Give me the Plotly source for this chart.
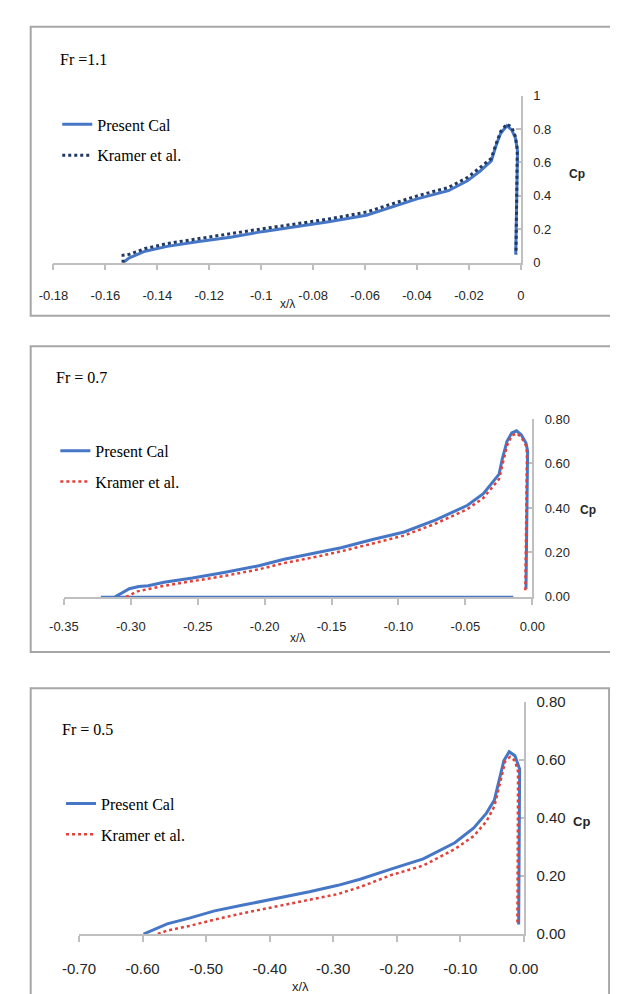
import plotly.graph_objects as go

W, H = 618, 994

# ---------------- data ----------------
# Panel 1: Fr = 1.1
p1_present_x = [-0.1532, -0.1508, -0.1447, -0.1362, -0.1240, -0.1118, -0.0997, -0.0863, -0.0740,
                -0.0595, -0.0400, -0.0279, -0.0206, -0.0157, -0.0114, -0.0096, -0.0078, -0.0054,
                -0.0035, -0.0021, -0.0013, -0.0020]
p1_present_y = [0.000, 0.029, 0.069, 0.098, 0.127, 0.153, 0.186, 0.216, 0.245,
                0.284, 0.382, 0.431, 0.490, 0.549, 0.610, 0.700, 0.775, 0.820,
                0.794, 0.745, 0.667, 0.050]
p1_kramer_x = [-0.1532, -0.1532, -0.1508, -0.1447, -0.1362, -0.1240, -0.1118, -0.0997, -0.0863,
               -0.0740, -0.0595, -0.0400, -0.0279, -0.0206, -0.0157, -0.0114, -0.0096, -0.0078,
               -0.0054, -0.0035, -0.0021, -0.0014, -0.0019]
p1_kramer_y = [0.000, 0.045, 0.050, 0.085, 0.115, 0.145, 0.172, 0.203, 0.233,
               0.262, 0.303, 0.400, 0.450, 0.510, 0.570, 0.625, 0.710, 0.785,
               0.830, 0.810, 0.755, 0.680, 0.050]
p1_xticks = [-0.18, -0.16, -0.14, -0.12, -0.10, -0.08, -0.06, -0.04, -0.02, 0.0]
p1_xtext = ["-0.18", "-0.16", "-0.14", "-0.12", "-0.1", "-0.08", "-0.06", "-0.04", "-0.02", "0"]
p1_yticks = [0.0, 0.2, 0.4, 0.6, 0.8, 1.0]
p1_ytext = ["0", "0.2", "0.4", "0.6", "0.8", "1"]

# Panel 2: Fr = 0.7
p2_present_x = [-0.3117, -0.3011, -0.2940, -0.2870, -0.2751, -0.2539, -0.2303, -0.2043, -0.1854,
                -0.1594, -0.1429, -0.1193, -0.0957, -0.0721, -0.0484, -0.0366, -0.0248, -0.0225,
                -0.0189, -0.0154, -0.0118, -0.0083, -0.0047, -0.0035, -0.0047]
p2_present_y = [0.000, 0.037, 0.047, 0.050, 0.066, 0.085, 0.110, 0.140, 0.169,
                0.199, 0.221, 0.258, 0.292, 0.346, 0.412, 0.464, 0.552, 0.619,
                0.700, 0.737, 0.747, 0.729, 0.692, 0.656, 0.037]
p2_base_x = [-0.3224, -0.0142]
p2_base_y = [0.0, 0.0]
p2_kramer_x = [-0.3035, -0.2950, -0.2751, -0.2539, -0.2303, -0.2043, -0.1854, -0.1594, -0.1429,
               -0.1193, -0.0957, -0.0721, -0.0484, -0.0366, -0.0248, -0.0225, -0.0189, -0.0154,
               -0.0118, -0.0083, -0.0047, -0.0040, -0.0052]
p2_kramer_y = [0.000, 0.025, 0.050, 0.070, 0.094, 0.124, 0.152, 0.183, 0.205,
               0.240, 0.276, 0.330, 0.395, 0.445, 0.530, 0.590, 0.680, 0.725,
               0.735, 0.720, 0.680, 0.645, 0.030]
p2_xticks = [-0.35, -0.30, -0.25, -0.20, -0.15, -0.10, -0.05, 0.0]
p2_xtext = ["-0.35", "-0.30", "-0.25", "-0.20", "-0.15", "-0.10", "-0.05", "0.00"]
p2_yticks = [0.0, 0.2, 0.4, 0.6, 0.8]
p2_ytext = ["0.00", "0.20", "0.40", "0.60", "0.80"]

# Panel 3: Fr = 0.5
p3_present_x = [-0.5985, -0.5612, -0.5264, -0.4866, -0.4418, -0.3921, -0.3373, -0.2925, -0.2577,
                -0.2079, -0.1582, -0.1085, -0.0787, -0.0587, -0.0463, -0.0388, -0.0313, -0.0229,
                -0.0139, -0.0065, -0.0080]
p3_present_y = [0.000, 0.035, 0.055, 0.080, 0.100, 0.121, 0.146, 0.168, 0.189,
                0.225, 0.259, 0.315, 0.366, 0.417, 0.462, 0.530, 0.598, 0.629,
                0.615, 0.569, 0.033]
p3_kramer_x = [-0.5760, -0.5612, -0.5264, -0.4866, -0.4418, -0.3921, -0.3373, -0.2925, -0.2577,
               -0.2079, -0.1582, -0.1085, -0.0787, -0.0587, -0.0463, -0.0363, -0.0289, -0.0214,
               -0.0139, -0.0090, -0.0100]
p3_kramer_y = [0.000, 0.012, 0.028, 0.050, 0.072, 0.094, 0.118, 0.138, 0.162,
               0.204, 0.236, 0.293, 0.338, 0.389, 0.440, 0.530, 0.598, 0.611,
               0.598, 0.560, 0.030]
p3_xticks = [-0.70, -0.60, -0.50, -0.40, -0.30, -0.20, -0.10, 0.0]
p3_xtext = ["-0.70", "-0.60", "-0.50", "-0.40", "-0.30", "-0.20", "-0.10", "0.00"]
p3_yticks = [0.0, 0.2, 0.4, 0.6, 0.8]
p3_ytext = ["0.00", "0.20", "0.40", "0.60", "0.80"]

titles = ["Fr =1.1", "Fr = 0.7", "Fr = 0.5"]
series_names = ["Present Cal", "Kramer et al."]

# ---------------- style ----------------
BLUE = "#4677C6"
NAVY = "#1F3864"
RED = "#E0413A"
AXIS = "#BFBFBF"
BORDER = "#A6A6A6"
SERIF = "Liberation Serif, Times New Roman, serif"
SANS = "Liberation Sans Narrow, Arial Narrow, Liberation Sans, Arial, sans-serif"

def px(x):
    return x / W

def py(y):
    return 1 - y / H

# per-panel layout geometry in pixels
panels = [
    dict(x0=30, x1=523, y0=250, y1=80, xr=[-0.18, 0], yr=[0, 1.0], tick=13, xstand=14,
         title=(35, 43), leg=(34, 92), xl=(277, 292), cp=(582, 160),
         box=(6, 10, 640, 304)),
    dict(x0=41, x1=535, y0=590, y1=409, xr=[-0.35, 0], yr=[0, 0.8], tick=13, xstand=11,
         title=(31, 367), leg=(32, 424), xl=(287, 632), cp=(594, 502),
         box=(6, 335, 640, 646)),
    dict(x0=57, x1=526, y0=933, y1=697, xr=[-0.70, 0], yr=[0, 0.8], tick=15, xstand=14,
         title=(37, 725), leg=(38, 783), xl=(291, 986), cp=(587, 818),
         box=(6, 683, 616, 1010)),
]

data = [
    (p1_present_x, p1_present_y, p1_kramer_x, p1_kramer_y, NAVY, 3, p1_xticks, p1_xtext, p1_yticks, p1_ytext),
    (p2_present_x, p2_present_y, p2_kramer_x, p2_kramer_y, RED, 2.5, p2_xticks, p2_xtext, p2_yticks, p2_ytext),
    (p3_present_x, p3_present_y, p3_kramer_x, p3_kramer_y, RED, 2.5, p3_xticks, p3_xtext, p3_yticks, p3_ytext),
]

fig = go.Figure()
shapes = []
annotations = []
layout = dict(
    width=W, height=H, margin=dict(l=0, r=0, t=0, b=0),
    paper_bgcolor="white", plot_bgcolor="rgba(0,0,0,0)", showlegend=True,
)

for i, (pg, d) in enumerate(zip(panels, data)):
    n = "" if i == 0 else str(i + 1)
    xa, ya = "x" + n, "y" + n
    legname = "legend" + n
    prx, pry, krx, kry, kcol, kw, xtv, xtt, ytv, ytt = d

    fig.add_trace(go.Scatter(x=prx, y=pry, mode="lines", name=series_names[0],
                             line=dict(color=BLUE, width=3), xaxis=xa, yaxis=ya,
                             legend=legname, legendgroup=f"a{i}", cliponaxis=False))
    if i == 1:
        fig.add_trace(go.Scatter(x=p2_base_x, y=p2_base_y, mode="lines", name=series_names[0],
                                 line=dict(color=BLUE, width=2.5), xaxis=xa, yaxis=ya,
                                 legend=legname, legendgroup=f"a{i}", showlegend=False,
                                 cliponaxis=False))
    fig.add_trace(go.Scatter(x=krx, y=kry, mode="lines", name=series_names[1],
                             line=dict(color=kcol, width=kw, dash="dot"), xaxis=xa, yaxis=ya,
                             legend=legname, legendgroup=f"b{i}", cliponaxis=False))

    tickfont = dict(family=SANS, size=pg["tick"], color="#262626")
    layout["xaxis" + n] = dict(
        domain=[px(pg["x0"]), px(pg["x1"])], range=pg["xr"], anchor=ya,
        tickvals=xtv, ticktext=xtt, showgrid=False, zeroline=False,
        showline=True, linecolor=AXIS, linewidth=1.5, ticks="outside", ticklen=6,
        tickcolor=AXIS, tickwidth=1.5, tickfont=tickfont, ticklabelstandoff=pg["xstand"],
        layer="below traces", fixedrange=True,
    )
    layout["yaxis" + n] = dict(
        domain=[py(pg["y0"]), py(pg["y1"])], range=pg["yr"], anchor=xa, side="right",
        tickvals=ytv, ticktext=ytt, showgrid=False, zeroline=False,
        showline=True, linecolor=AXIS, linewidth=1.5, ticks="inside", ticklen=5,
        tickcolor=AXIS, tickwidth=1.5, tickfont=tickfont, ticklabelstandoff=8,
        layer="below traces", fixedrange=True,
    )
    layout[legname] = dict(
        x=px(pg["leg"][0]), y=py(pg["leg"][1]), xanchor="left", yanchor="top",
        bgcolor="rgba(0,0,0,0)", font=dict(family=SERIF, size=16, color="black"),
        tracegroupgap=7, traceorder="grouped",
    )
    bx0, by0, bx1, by1 = pg["box"]
    shapes.append(dict(type="rect", xref="paper", yref="paper",
                       x0=px(bx0), x1=px(bx1), y0=py(by1), y1=py(by0),
                       line=dict(color=BORDER, width=2), fillcolor="rgba(0,0,0,0)", layer="below"))
    annotations.append(dict(text=titles[i], xref="paper", yref="paper",
                            x=px(pg["title"][0]), y=py(pg["title"][1]), xanchor="left",
                            yanchor="middle", showarrow=False,
                            font=dict(family=SERIF, size=16, color="black")))
    annotations.append(dict(text="x/λ", xref="paper", yref="paper",
                            x=px(pg["xl"][0]), y=py(pg["xl"][1]), xanchor="center",
                            yanchor="middle", showarrow=False,
                            font=dict(family=SANS, size=12 if i < 2 else 13, color="#262626")))
    annotations.append(dict(text="<b>Cp</b>", xref="paper", yref="paper",
                            x=px(pg["cp"][0]), y=py(pg["cp"][1]), xanchor="center",
                            yanchor="middle", showarrow=False,
                            font=dict(family=SANS, size=12 if i < 2 else 13, color="#262626")))

layout["shapes"] = shapes
layout["annotations"] = annotations
fig.update_layout(**layout)
fig.write_html("out.html")
